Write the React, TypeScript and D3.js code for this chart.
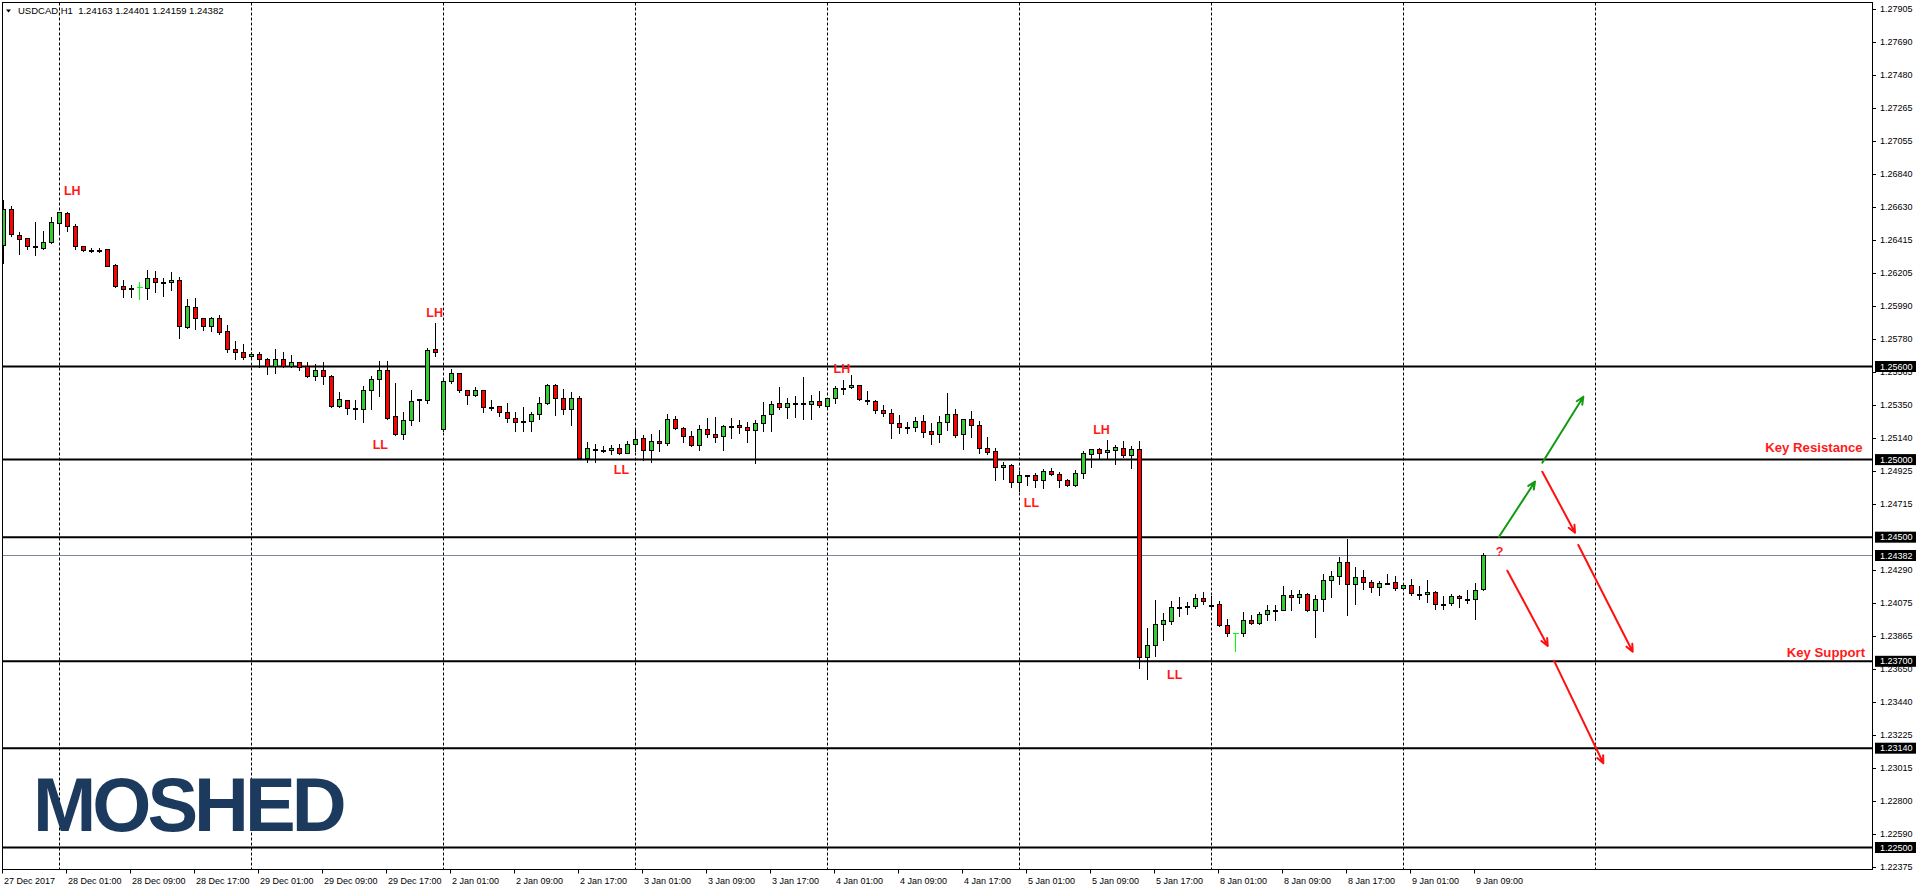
import React from 'react';
import * as d3 from 'd3';

// ---------- DATA ----------
const opens = [
1.26381,1.26613,1.26445,1.26426,1.26370,1.26366,1.26400,1.26523,1.26587,1.26503,
1.26375,1.26351,1.26349,1.26355,1.26252,1.26121,1.26108,1.26110,1.26108,1.26168,
1.26140,1.26143,1.26156,1.25855,1.25981,1.25911,1.25859,1.25911,1.25827,1.25711,
1.25696,1.25666,1.25679,1.25646,1.25606,1.25646,1.25606,1.25627,1.25606,1.25537,
1.25575,1.25537,1.25348,1.25382,1.25331,1.25329,1.25447,1.25518,1.25575,1.25279,
1.25163,1.25253,1.25382,1.25382,1.25711,1.25200,1.25505,1.25556,1.25446,1.25414,
1.25446,1.25341,1.25343,1.25305,1.25266,1.25249,1.25247,1.25292,1.25363,1.25481,
1.25395,1.25324,1.25395,1.25013,1.25071,1.25064,1.25060,1.25073,1.25045,1.25103,
1.25137,1.25060,1.25118,1.25105,1.25260,1.25202,1.25150,1.25092,1.25195,1.25163,
1.25150,1.25217,1.25221,1.25208,1.25189,1.25234,1.25292,1.25363,1.25337,1.25363,
1.25356,1.25356,1.25376,1.25343,1.25395,1.25462,1.25466,1.25479,1.25386,1.25376,
1.25320,1.25298,1.25238,1.25210,1.25208,1.25247,1.25182,1.25163,1.25240,1.25292,
1.25163,1.25260,1.25221,1.25073,1.25053,1.24950,1.24963,1.24854,1.24897,1.24899,
1.24867,1.24927,1.24905,1.24867,1.24834,1.24912,1.25036,1.25066,1.25047,1.25060,
1.25073,1.25028,1.25066,1.23726,1.23803,1.23939,1.23960,1.24048,1.24048,1.24055,
1.24106,1.24065,1.24067,1.23932,1.23880,1.23880,1.23964,1.23945,1.24003,1.24031,
1.24031,1.24125,1.24113,1.24132,1.24029,1.24100,1.24222,1.24248,1.24338,1.24196,
1.24241,1.24209,1.24177,1.24207,1.24209,1.24171,1.24190,1.24136,1.24132,1.24145,
1.24072,1.24074,1.24119,1.24104,1.24100,1.24163];

const highs = [
1.26673,1.26635,1.26469,1.26430,1.26531,1.26475,1.26566,1.26598,1.26594,1.26518,
1.26379,1.26366,1.26366,1.26357,1.26261,1.26158,1.26123,1.26143,1.26222,1.26216,
1.26171,1.26207,1.26175,1.26035,1.26042,1.25913,1.25919,1.25932,1.25865,1.25762,
1.25745,1.25691,1.25691,1.25653,1.25713,1.25694,1.25672,1.25629,1.25631,1.25616,
1.25631,1.25545,1.25436,1.25384,1.25384,1.25477,1.25539,1.25636,1.25636,1.25494,
1.25305,1.25447,1.25391,1.25717,1.25878,1.25513,1.25582,1.25558,1.25448,1.25466,
1.25448,1.25382,1.25345,1.25365,1.25307,1.25337,1.25307,1.25406,1.25487,1.25487,
1.25455,1.25434,1.25408,1.25114,1.25099,1.25086,1.25096,1.25099,1.25122,1.25202,
1.25157,1.25163,1.25191,1.25294,1.25279,1.25208,1.25182,1.25223,1.25268,1.25275,
1.25221,1.25266,1.25255,1.25242,1.25255,1.25371,1.25376,1.25466,1.25395,1.25408,
1.25532,1.25414,1.25440,1.25397,1.25472,1.25511,1.25543,1.25481,1.25440,1.25382,
1.25352,1.25324,1.25287,1.25240,1.25275,1.25287,1.25234,1.25283,1.25427,1.25326,
1.25262,1.25311,1.25249,1.25144,1.25073,1.24985,1.24972,1.24929,1.24900,1.24912,
1.24937,1.24944,1.24918,1.24873,1.24931,1.25053,1.25068,1.25077,1.25124,1.25092,
1.25118,1.25088,1.25120,1.23913,1.24095,1.24009,1.24089,1.24115,1.24085,1.24132,
1.24145,1.24121,1.24089,1.23971,1.23880,1.24016,1.23996,1.24018,1.24061,1.24061,
1.24186,1.24160,1.24160,1.24138,1.24125,1.24263,1.24282,1.24370,1.24486,1.24306,
1.24286,1.24224,1.24218,1.24261,1.24248,1.24192,1.24229,1.24183,1.24222,1.24151,
1.24119,1.24132,1.24125,1.24158,1.24203,1.24401];

const lows = [
1.26265,1.26441,1.26325,1.26360,1.26319,1.26360,1.26398,1.26463,1.26473,1.26360,
1.26347,1.26340,1.26340,1.26248,1.26115,1.26050,1.26050,1.26037,1.26037,1.26082,
1.26057,1.26093,1.25786,1.25850,1.25844,1.25837,1.25831,1.25808,1.25696,1.25651,
1.25649,1.25649,1.25599,1.25552,1.25561,1.25599,1.25599,1.25578,1.25535,1.25513,
1.25487,1.25341,1.25337,1.25294,1.25264,1.25245,1.25326,1.25410,1.25264,1.25161,
1.25135,1.25223,1.25251,1.25363,1.25670,1.25187,1.25492,1.25438,1.25360,1.25412,
1.25309,1.25318,1.25283,1.25245,1.25187,1.25187,1.25187,1.25260,1.25356,1.25290,
1.25296,1.25225,1.25010,1.24987,1.24987,1.25047,1.25034,1.25038,1.25043,1.25053,
1.25000,1.24987,1.25056,1.25092,1.25200,1.25116,1.25090,1.25062,1.25144,1.25114,
1.25064,1.25141,1.25174,1.25116,1.24980,1.25187,1.25187,1.25324,1.25270,1.25277,
1.25264,1.25264,1.25337,1.25341,1.25367,1.25425,1.25459,1.25382,1.25356,1.25298,
1.25283,1.25141,1.25169,1.25174,1.25187,1.25148,1.25103,1.25116,1.25191,1.25144,
1.25071,1.25148,1.25040,1.25038,1.24871,1.24875,1.24826,1.24800,1.24839,1.24826,
1.24819,1.24903,1.24826,1.24832,1.24832,1.24884,1.24950,1.25002,1.25002,1.24970,
1.25017,1.24944,1.23655,1.23584,1.23735,1.23840,1.23939,1.23990,1.24003,1.24046,
1.24067,1.24042,1.23930,1.23861,1.23769,1.23861,1.23939,1.23943,1.23969,1.23969,
1.24029,1.24033,1.24074,1.24022,1.23859,1.24027,1.24117,1.24201,1.24001,1.24072,
1.24168,1.24149,1.24130,1.24203,1.24158,1.24169,1.24125,1.24104,1.24082,1.24040,
1.24040,1.24065,1.24052,1.24074,1.23971,1.24159];

const closes = [
1.26613,1.26452,1.26424,1.26375,1.26374,1.26403,1.26529,1.26594,1.26503,1.26375,
1.26353,1.26349,1.26351,1.26250,1.26121,1.26100,1.26106,1.26110,1.26168,1.26143,
1.26143,1.26158,1.25859,1.25988,1.25911,1.25859,1.25913,1.25825,1.25711,1.25696,
1.25659,1.25681,1.25646,1.25606,1.25646,1.25606,1.25627,1.25599,1.25537,1.25575,
1.25537,1.25348,1.25389,1.25331,1.25329,1.25447,1.25518,1.25575,1.25271,1.25163,
1.25253,1.25376,1.25389,1.25704,1.25696,1.25505,1.25556,1.25446,1.25414,1.25446,
1.25337,1.25339,1.25305,1.25266,1.25240,1.25247,1.25292,1.25363,1.25481,1.25395,
1.25324,1.25395,1.25013,1.25073,1.25069,1.25062,1.25075,1.25045,1.25099,1.25131,
1.25060,1.25118,1.25105,1.25260,1.25202,1.25150,1.25092,1.25195,1.25163,1.25148,
1.25215,1.25219,1.25208,1.25189,1.25234,1.25285,1.25356,1.25337,1.25363,1.25365,
1.25365,1.25376,1.25350,1.25395,1.25459,1.25464,1.25479,1.25389,1.25384,1.25318,
1.25298,1.25238,1.25208,1.25206,1.25247,1.25180,1.25163,1.25240,1.25292,1.25156,
1.25260,1.25221,1.25073,1.25051,1.24950,1.24963,1.24854,1.24899,1.24899,1.24867,
1.24927,1.24905,1.24867,1.24834,1.24912,1.25043,1.25066,1.25040,1.25062,1.25079,
1.25028,1.25066,1.23726,1.23803,1.23939,1.23966,1.24048,1.24050,1.24055,1.24106,
1.24087,1.24063,1.23932,1.23880,1.23880,1.23964,1.23945,1.24003,1.24033,1.24033,
1.24125,1.24113,1.24132,1.24029,1.24100,1.24222,1.24248,1.24338,1.24196,1.24241,
1.24209,1.24177,1.24203,1.24205,1.24171,1.24190,1.24138,1.24134,1.24145,1.24067,
1.24070,1.24119,1.24106,1.24102,1.24158,1.24382];

// time axis labels, one every 8 bars starting at bar 0
const timeLabels = [
'27 Dec 2017','28 Dec 01:00','28 Dec 09:00','28 Dec 17:00','29 Dec 01:00','29 Dec 09:00',
'29 Dec 17:00','2 Jan 01:00','2 Jan 09:00','2 Jan 17:00','3 Jan 01:00','3 Jan 09:00',
'3 Jan 17:00','4 Jan 01:00','4 Jan 09:00','4 Jan 17:00','5 Jan 01:00','5 Jan 09:00',
'5 Jan 17:00','8 Jan 01:00','8 Jan 09:00','8 Jan 17:00','9 Jan 01:00','9 Jan 09:00'];
const labelStep = 8;

// day separators (bar index of 00:00)
const daySeparators = [7, 31, 55, 79, 103, 127, 151, 175, 199];

// right price-axis ticks
const priceTicks = [
1.27905,1.27690,1.27480,1.27265,1.27055,1.26840,1.26630,1.26415,1.26205,1.25990,
1.25780,1.25565,1.25350,1.25140,1.24925,1.24715,1.24290,1.24075,1.23865,1.23650,
1.23440,1.23225,1.23015,1.22800,1.22590,1.22375];

// horizontal levels
const levels = [1.25600, 1.25000, 1.24500, 1.23700, 1.23140, 1.22500];
const bidPrice = 1.24382;

// annotations: [text, bar index, price]
const swingLabels: [string, number, number][] = [
['LH', 8.6, 1.26705], ['LH', 53.9, 1.25919], ['LL', 47.1, 1.25068],
['LH', 104.8, 1.25558], ['LL', 77.25, 1.24907], ['LH', 137.25, 1.25165],
['LL', 128.5, 1.24694], ['LL', 146.4, 1.23586], ['?', 187, 1.24379]];
const keyLabels: [string, number, number][] = [
['Key Resistance', 232.4, 1.25049], ['Key Support', 232.7, 1.23725]];

// scenario arrows: [i1, p1, i2, p2, up?]
const arrows: [number, number, number, number, boolean][] = [
[186.94, 1.24503, 191.44, 1.24858, true],
[192.35, 1.24980, 197.48, 1.25405, true],
[192.35, 1.24922, 196.44, 1.24529, false],
[187.98, 1.24284, 193.03, 1.23799, false],
[196.85, 1.24450, 203.65, 1.23762, false],
[193.81, 1.23704, 199.98, 1.23043, false]];

const title = 'USDCAD,H1  1.24163 1.24401 1.24159 1.24382';

// ---------- LAYOUT ----------
const W = 1916, H = 891;
const L = 2.5, T = 2.5, R = 1872.5, B = 869.5;
const FONT = "'Liberation Sans', Arial, sans-serif";

const x = d3.scaleLinear().domain([0, 185]).range([3.5, 1483.5]);
const y = d3.scaleLinear().domain([1.225, 1.256]).range([847.5, 366.5]);

const UP = '#32CD32', DOWN = '#FF0000', LIME = '#00FF00';

function arrowPath(x1: number, y1: number, x2: number, y2: number) {
  const a = Math.atan2(y2 - y1, x2 - x1);
  const hl = 8, ha = 0.42;
  const p1 = [x2 - hl * Math.cos(a - ha), y2 - hl * Math.sin(a - ha)];
  const p2 = [x2 - hl * Math.cos(a + ha), y2 - hl * Math.sin(a + ha)];
  return `M${x1},${y1}L${x2},${y2}M${p1[0]},${p1[1]}L${x2},${y2}L${p2[0]},${p2[1]}`;
}

export default function App() {
  const candles = opens.map((o, i) => ({ o, h: highs[i], l: lows[i], c: closes[i], i }));
  return (
    <svg width={W} height={H} style={{ position: 'absolute', left: 0, top: 0, display: 'block', background: '#fff' }}
      fontFamily={FONT}>
      <defs>
        <clipPath id="plot"><rect x={3} y={3} width={R - 3} height={B - 3} /></clipPath>
      </defs>
      <rect x={0} y={0} width={W} height={H} fill="#fff" />

      {/* day separators */}
      {daySeparators.map(d => (
        <line key={'d' + d} x1={x(d)} x2={x(d)} y1={T} y2={B} stroke="#000" strokeWidth={1} strokeDasharray="3,2" />
      ))}

      {/* levels */}
      {levels.map(lv => (
        <line key={'lv' + lv} x1={L} x2={R} y1={y(lv)} y2={y(lv)} stroke="#000" strokeWidth={2} />
      ))}
      <line x1={L} x2={R} y1={Math.round(y(bidPrice)) + 0.5} y2={Math.round(y(bidPrice)) + 0.5} stroke="#778899" strokeWidth={1} />

      {/* candles */}
      <g clipPath="url(#plot)" shapeRendering="crispEdges">
        {candles.map(({ o, h, l, c, i }) => {
          const cx = x(i);
          const yh = Math.round(y(h)), yl = Math.round(y(l));
          if (o === c) {
            const yo = Math.round(y(o)) + 0.5;
            return (
              <g key={i}>
                <line x1={cx} x2={cx} y1={yh} y2={yl + 1} stroke={LIME} strokeWidth={1} />
                <line x1={cx - 2.5} x2={cx + 3.5} y1={yo} y2={yo} stroke={LIME} strokeWidth={1} />
              </g>
            );
          }
          const top = Math.round(y(Math.max(o, c)));
          const bot = Math.round(y(Math.min(o, c)));
          return (
            <g key={i}>
              <line x1={cx} x2={cx} y1={yh} y2={yl + 1} stroke="#000" strokeWidth={1} />
              <rect x={cx - 2} y={top + 0.5} width={4} height={Math.max(bot - top, 1)}
                fill={c > o ? UP : DOWN} stroke="#000" strokeWidth={1} />
            </g>
          );
        })}
      </g>

      {/* arrows */}
      <g fill="none" strokeWidth={2} strokeLinecap="round" strokeLinejoin="round">
        {arrows.map(([i1, p1, i2, p2, up], k) => (
          <path key={'a' + k} d={arrowPath(x(i1), y(p1), x(i2), y(p2))} stroke={up ? '#139A13' : '#FF1010'} />
        ))}
      </g>

      {/* swing labels */}
      {swingLabels.map(([t, i, p], k) => (
        <text key={'s' + k} x={x(i)} y={y(p)} textAnchor="middle" fontSize={12.5} fontWeight="bold" fill="#FF1A1A">{t}</text>
      ))}
      {keyLabels.map(([t, i, p], k) => (
        <text key={'k' + k} x={x(i)} y={y(p)} textAnchor="end" fontSize={13.2} fontWeight="bold" fill="#FF1A1A">{t}</text>
      ))}

      {/* logo */}
      <text x={33} y={831} fontSize={76} fontWeight="bold" letterSpacing={-4} fill="#1C3A5E">MOSHED</text>

      {/* frame */}
      <rect x={L} y={T} width={R - L} height={B - T} fill="none" stroke="#000" strokeWidth={1} />

      {/* title */}
      <path d="M6,9.5L11,9.5L8.5,12.5Z" fill="#000" />
      <text x={18} y={14} fontSize={9.5} fill="#000" style={{ whiteSpace: 'pre' }}>{title}</text>

      {/* right axis */}
      <g fontSize={9} fill="#000">
        {priceTicks.map(p => (
          <g key={'pt' + p}>
            <line x1={R} x2={R + 3.5} y1={Math.round(y(p)) + 0.5} y2={Math.round(y(p)) + 0.5} stroke="#000" />
            <text x={1880} y={y(p)} dy="0.35em">{p.toFixed(5)}</text>
          </g>
        ))}
        {[...levels, bidPrice].map(p => (
          <g key={'bx' + p}>
            <rect x={1875} y={y(p) - 5.5} width={41} height={11} fill="#000" />
            <text x={1880} y={y(p)} dy="0.35em" fill="#fff">{p.toFixed(5)}</text>
          </g>
        ))}
      </g>

      {/* time axis */}
      <g fontSize={9} fill="#000">
        {timeLabels.map((t, k) => {
          const tx = Math.round(x(k * labelStep) - 1.5) + 0.5;
          return (
            <g key={'t' + k}>
              <line x1={tx} x2={tx} y1={B} y2={B + 4} stroke="#000" />
              <text x={tx + 1.5} y={884}>{t}</text>
            </g>
          );
        })}
      </g>
    </svg>
  );
}
